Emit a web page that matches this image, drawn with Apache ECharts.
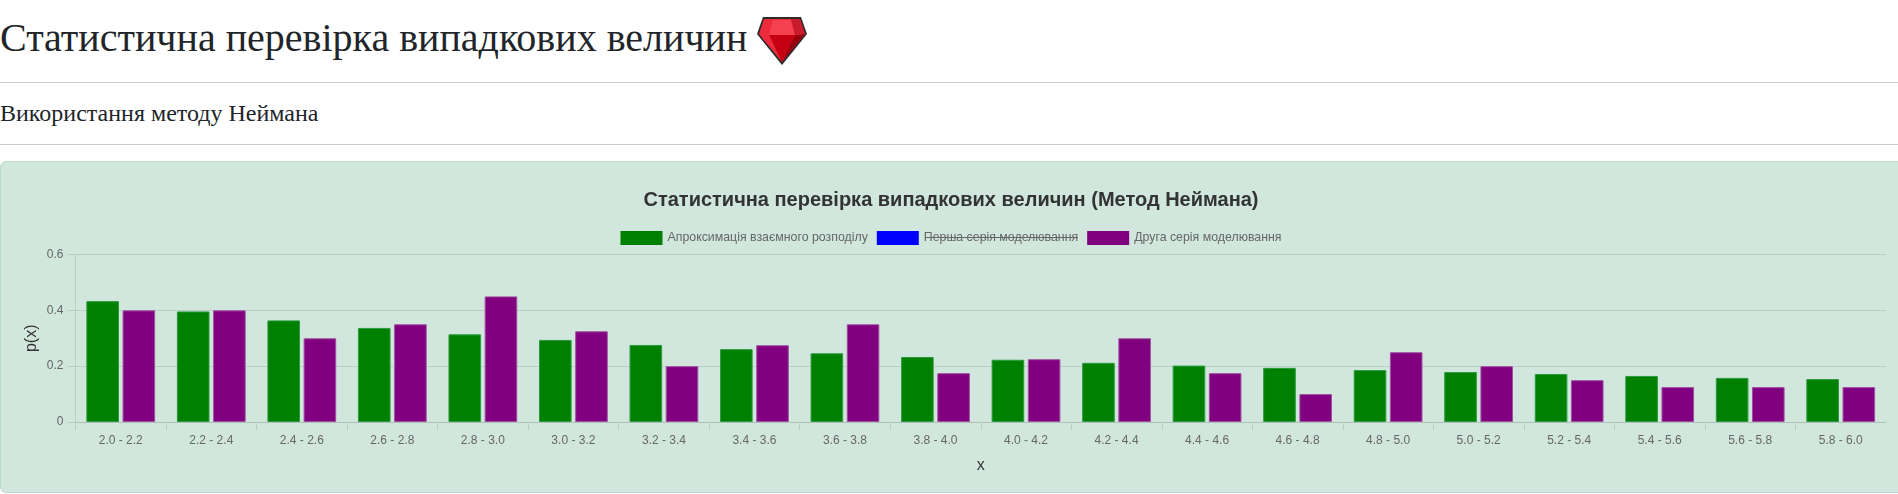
<!DOCTYPE html>
<html lang="uk">
<head>
<meta charset="utf-8">
<title>Статистична перевірка випадкових величин</title>
<script src="https://cdn.jsdelivr.net/npm/echarts@6/dist/echarts.min.js"></script>
<style>
html,body{margin:0;padding:0;width:1898px;height:494px;overflow:hidden;background:#fff;color:#212529;font-family:"Liberation Serif","Times New Roman",serif}
h1{position:absolute;left:0;top:14px;margin:0;font-size:40px;font-weight:400;line-height:48px;white-space:nowrap}
h1 svg{position:absolute;left:757px;top:2px}
h2{position:absolute;left:0;top:99px;margin:0;font-size:24px;font-weight:400;line-height:29px;white-space:nowrap}
.rule{position:absolute;left:0;width:1898px;height:1px;background:#cbcccd}
#card{position:absolute;left:0;top:161px;width:1920px;height:332px;box-sizing:border-box;background:#d1e7dd;border:1px solid #badbcc;border-radius:6px;overflow:hidden}
#chart{position:absolute;left:-1px;top:-1px;width:1902px;height:332px}
</style>
</head>
<body>
<h1>Статистична перевірка випадкових величин<svg width="50" height="50" viewBox="0 0 50 50">
<polygon points="6,1 44,1 50,18 25,49 0,18" fill="#2b2b2b"/>
<polygon points="7,3 43,3 48,18 25,46 2,18" fill="#ee2a3c"/>
<polygon points="16,4 25,4 34,4 38,19 12,19" fill="#f4404f"/>
<polygon points="12,19 38,19 25,46" fill="#c40012"/>
<polygon points="38,19 48,18 25,46" fill="#97000d"/>
<polygon points="34,3 43,3 48,18 38,19" fill="#c81c2c"/>
</svg></h1>
<div class="rule" style="top:82px"></div>
<h2>Використання методу Неймана</h2>
<div class="rule" style="top:144px"></div>
<div id="card"><div id="chart"></div></div>
<script>
const chartTitle = 'Статистична перевірка випадкових величин (Метод Неймана)';
const categories = ['2.0 - 2.2','2.2 - 2.4','2.4 - 2.6','2.6 - 2.8','2.8 - 3.0','3.0 - 3.2','3.2 - 3.4','3.4 - 3.6','3.6 - 3.8','3.8 - 4.0','4.0 - 4.2','4.2 - 4.4','4.4 - 4.6','4.6 - 4.8','4.8 - 5.0','5.0 - 5.2','5.2 - 5.4','5.4 - 5.6','5.6 - 5.8','5.8 - 6.0'];
const approximation = [0.433,0.396,0.364,0.337,0.314,0.294,0.276,0.261,0.246,0.233,0.223,0.212,0.202,0.194,0.186,0.179,0.172,0.165,0.158,0.154];
const firstRun = [];
const secondRun = [0.4,0.4,0.3,0.35,0.45,0.325,0.2,0.275,0.35,0.175,0.225,0.3,0.175,0.1,0.25,0.2,0.15,0.125,0.125,0.125];
const names = ['Апроксимація взаємного розподілу','Перша серія моделювання','Друга серія моделювання'];
const yTicks = {min:0,max:0.6,interval:0.2};
const tickIndexes = categories.map((c,i)=>i);

const gridCol='#b9cfc6', axisCol='#aebfb7', tickCol='#bccdc5';
const sans='"Liberation Sans",Arial,sans-serif';
const chart = echarts.init(document.getElementById('chart'),null,{renderer:'canvas'});
function bar(name,data,fill,edge){
  return {name,type:'bar',data,barWidth:32.6,barGap:'11%',
    itemStyle:{color:fill,borderColor:edge,borderWidth:1},
    emphasis:{disabled:true},animation:false};
}
chart.setOption({
  animation:false,
  textStyle:{fontFamily:sans},
  title:{text:chartTitle,left:'center',top:24,
    textStyle:{fontSize:20,fontWeight:'bold',color:'#333',fontFamily:sans}},
  legend:{
    data:names,top:65,left:'center',itemWidth:42,itemHeight:14,itemGap:9,
    icon:'rect',selectedMode:true,
    itemStyle:{borderWidth:0},
    selected:{[names[1]]:false},
    inactiveColor:'#0000ff',inactiveBorderWidth:0,
    formatter:n=>'{t|'+n+'}',
    textStyle:{rich:{t:{fontSize:12.35,color:'#666',fontFamily:sans}}}
  },
  graphic:[{type:'line',silent:true,shape:{x1:925,y1:76.5,x2:1078,y2:76.5},style:{stroke:'#666',lineWidth:1}}],
  grid:{left:75.5,right:16,top:93.5,bottom:71,containLabel:false},
  xAxis:[{
    type:'category',data:categories,
    name:'x',nameLocation:'middle',nameGap:36,nameMoveOverlap:false,
    nameTextStyle:{fontSize:16,color:'#333'},
    axisLine:{lineStyle:{color:axisCol,width:1}},
    axisTick:{show:false},
    axisLabel:{fontSize:12,color:'#666',margin:13,interval:0},
    splitLine:{show:false}
  },{
    type:'value',position:'bottom',min:0,max:categories.length,
    axisLine:{show:false},axisLabel:{show:false},splitLine:{show:false},
    axisTick:{show:true,length:8,customValues:tickIndexes,lineStyle:{color:tickCol,width:1}}
  }],
  yAxis:{
    type:'value',min:yTicks.min,max:yTicks.max,interval:yTicks.interval,
    name:'p(x)',nameLocation:'middle',nameGap:36,nameMoveOverlap:false,
    nameTextStyle:{fontSize:16,color:'#333'},
    axisLine:{show:true,lineStyle:{color:tickCol,width:1}},
    axisTick:{show:true,length:8,lineStyle:{color:tickCol,width:1}},
    axisLabel:{fontSize:12,color:'#666',margin:12,formatter:v=>String(+v.toFixed(1))},
    splitLine:{show:true,lineStyle:{color:gridCol,width:1}}
  },
  series:[
    bar(names[0],approximation,'#008000','#2a9a3f'),
    bar(names[1],firstRun,'#0000ff','#0000ff'),
    bar(names[2],secondRun,'#800080','#a050a0')
  ]
});
</script>
</body>
</html>
